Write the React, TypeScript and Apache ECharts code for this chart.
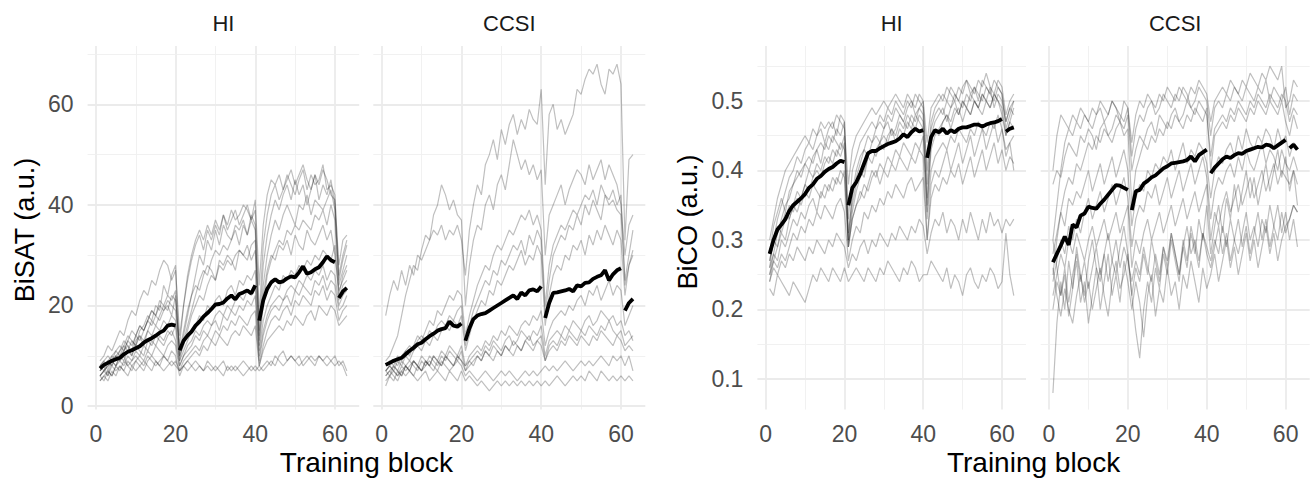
import React, { useEffect, useRef } from "react";
import * as echarts from "echarts";

// ---------- data ----------
const blocks = Array.from({ length: 63 }, (_, i) => i + 1);
const xTicks = [0, 20, 40, 60];
const satTicks = [0, 20, 40, 60];
const coTicks = [0.1, 0.2, 0.3, 0.4, 0.5];
const stripLabels = ["HI", "CCSI", "HI", "CCSI"];
const yTitles = ["BiSAT (a.u.)", "BiCO (a.u.)"];
const xTitle = "Training block";

const hiSatMean = [
  7.5, 8.2, 8.6, 9.0, 9.3, 9.6, 10.3, 10.8, 11.1, 11.5, 11.9, 12.6, 13.1, 13.5, 14.0, 14.6, 15.0, 16.0, 16.2, 16.0,
  11.1, 13.0, 14.0, 14.8, 16.0, 16.8, 17.8, 18.5, 19.3, 20.2, 20.3, 20.6, 21.4, 22.0, 21.2, 22.3, 22.6, 23.0, 22.4, 24.0,
  17.0, 21.0, 23.3, 24.6, 25.2, 24.6, 24.8, 25.4, 25.8, 25.6, 26.6, 27.8, 26.3, 26.6, 27.2, 27.6, 28.6, 29.8, 29.0, 28.6,
  21.5, 22.8, 23.5,
];
const ccsiSatMean = [
  8.2, 8.6, 9.0, 9.3, 9.6, 10.3, 11.0, 11.6, 12.3, 12.6, 13.3, 13.9, 14.4, 15.0, 15.3, 15.5, 16.8, 16.0, 15.8, 16.4,
  13.0, 15.5, 17.3, 18.0, 18.3, 18.5, 19.0, 19.5, 20.0, 20.5, 21.0, 21.5, 22.0, 21.3, 22.6, 22.0, 23.0, 23.2, 22.8, 23.8,
  17.5, 20.5, 22.5, 22.6, 22.8, 23.0, 23.3, 22.8, 24.0, 23.8, 24.5, 24.6, 25.3, 25.7, 26.0, 27.0, 25.0, 26.2, 27.0, 27.4,
  19.0, 20.5, 21.3,
];
const hiCoMean = [
  0.28, 0.3, 0.315, 0.322, 0.33, 0.342, 0.35, 0.355, 0.36, 0.366, 0.375, 0.38, 0.388, 0.392, 0.398, 0.402, 0.405, 0.41, 0.414, 0.412,
  0.35, 0.375, 0.383, 0.395, 0.41, 0.425, 0.428, 0.428, 0.432, 0.435, 0.438, 0.44, 0.442, 0.446, 0.452, 0.448, 0.455, 0.46, 0.456, 0.458,
  0.418, 0.448, 0.458, 0.455, 0.46, 0.453, 0.458, 0.455, 0.46, 0.462, 0.462, 0.464, 0.466, 0.466, 0.463, 0.466, 0.468, 0.469, 0.471, 0.474,
  0.456, 0.46, 0.462,
];
const ccsiCoMean = [
  0.268, 0.28, 0.292, 0.305, 0.293, 0.322, 0.318, 0.335, 0.338, 0.348, 0.346, 0.345, 0.352, 0.358, 0.365, 0.372, 0.379, 0.378, 0.375, 0.372,
  0.343, 0.37, 0.372, 0.381, 0.385, 0.39, 0.393, 0.398, 0.403, 0.406, 0.41, 0.411, 0.412, 0.413, 0.415, 0.42, 0.413, 0.422, 0.426, 0.43,
  0.396, 0.404, 0.41, 0.416, 0.42, 0.418, 0.422, 0.425, 0.424, 0.428, 0.43, 0.432, 0.434, 0.433, 0.437, 0.436, 0.432, 0.436, 0.44, 0.444,
  0.432, 0.437, 0.43,
];

const hiSatSubjects = [
  [6,7,8,9,8,10,11,12,10,13,14,12,15,17,16,18,20,19,22,21, 12,20,26,30,33,35,33,36,34,37,35,38,36,39,37,38,40,39,37,41, 24,36,42,45,44,46,43,45,47,44,46,48,45,43,46,44,47,45,42,41, 28,33,34],
  [8,9,7,10,11,10,12,14,13,12,15,16,18,17,20,19,24,22,26,28, 10,14,18,22,26,30,28,33,31,35,32,36,34,33,36,35,37,34,38,36, 15,28,34,38,41,39,42,44,41,45,42,44,40,43,46,41,44,42,45,40, 24,27,30],
  [7,8,9,8,10,11,13,12,11,14,16,15,17,19,18,21,20,22,21,23, 9,13,16,19,22,25,27,26,29,31,30,32,31,33,35,32,36,34,37,35, 14,24,30,34,37,35,38,40,38,36,40,39,42,38,41,40,39,41,43,39, 25,29,32],
  [6,7,8,9,10,9,11,13,12,14,13,15,17,16,18,17,19,20,18,22, 10,12,15,18,20,22,21,24,26,25,28,27,29,28,30,31,30,29,32,33, 12,20,26,29,31,33,32,35,34,36,35,37,36,35,38,37,39,36,40,37, 22,26,28],
  [8,7,9,10,9,11,12,11,13,12,14,13,15,14,16,15,17,16,18,17, 9,11,13,15,16,18,17,20,19,21,22,20,23,24,22,25,24,26,25,27, 11,17,20,22,24,23,26,25,27,26,28,27,29,28,30,29,31,30,29,32, 21,24,25],
  [5,6,7,6,8,9,8,10,9,11,10,12,11,13,12,14,13,15,14,16, 8,10,12,13,15,14,16,17,16,18,19,18,20,19,21,22,21,23,22,24, 10,15,18,20,21,22,21,23,24,23,25,24,26,25,27,26,28,25,27,26, 20,22,23],
  [7,8,6,9,8,10,9,11,10,12,11,10,13,12,14,13,12,14,15,13, 8,10,11,12,14,13,15,14,16,17,15,18,17,19,18,20,19,21,20,22, 9,14,17,19,20,19,21,22,20,23,22,24,23,22,25,24,26,23,25,24, 19,20,22],
  [6,5,7,6,8,7,9,8,7,9,10,9,11,10,12,11,10,12,13,12, 7,9,10,11,12,11,13,14,13,15,14,16,15,17,16,18,17,16,18,19, 8,12,15,17,18,17,19,20,18,21,20,22,21,20,23,22,24,21,23,22, 17,19,20],
  [9,10,12,11,13,15,14,17,19,18,21,23,22,25,24,27,29,28,25,27, 14,20,25,29,32,34,31,35,33,36,34,38,35,37,39,36,38,40,37,39, 18,32,38,42,44,41,43,46,44,42,45,47,43,46,44,45,48,43,44,42, 26,30,33],
  [5,6,5,7,6,8,7,6,8,9,8,7,9,10,9,8,10,9,11,10, 6,8,9,10,11,10,12,11,13,12,14,13,12,14,15,14,16,15,14,16, 8,11,13,14,15,16,15,17,16,18,17,16,18,19,17,20,19,18,20,19, 16,17,18],
  [6,7,6,8,7,8,7,9,8,7,8,9,8,7,9,8,7,8,9,8, 7,8,9,8,7,8,7,9,8,7,8,9,7,8,7,8,9,8,7,8, 7,8,9,8,10,9,8,9,10,9,8,9,10,9,8,10,9,10,9,8, 9,8,6],
  [7,8,9,8,10,9,10,8,9,10,9,8,10,9,8,9,10,9,8,9, 7,8,7,8,9,8,7,8,7,8,7,6,8,7,8,7,6,7,8,7, 8,7,8,9,8,10,11,9,10,9,10,8,9,10,9,10,9,8,9,10, 8,9,7],
  [8,9,10,9,11,12,11,13,15,14,16,15,17,19,18,20,19,21,20,19, 11,15,19,22,24,23,26,28,27,25,29,28,30,29,27,31,30,32,29,31, 13,22,27,30,29,32,31,33,30,34,32,31,35,33,32,34,36,33,35,30, 23,25,27],
];

const ccsiSatSubjects = [
  [18,22,25,23,27,24,28,26,30,29,31,33,35,34,36,33,35,34,36,33, 26,35,40,44,42,48,50,53,49,55,52,56,58,54,57,55,59,57,56,63, 44,58,60,55,57,54,56,58,63,62,65,67,66,68,64,62,67,66,68,64, 33,49,50],
  [9,10,12,14,18,22,25,28,27,31,34,33,38,40,44,42,39,41,38,37, 20,28,33,36,35,40,42,39,44,46,43,48,53,50,47,49,46,48,45,47, 30,38,40,42,44,40,43,45,47,46,44,48,45,47,49,45,48,46,44,40, 30,36,38],
  [7,8,9,8,10,11,10,12,14,13,15,17,16,19,18,20,22,21,23,22, 14,18,21,24,26,28,27,30,32,31,33,35,34,36,38,37,39,36,38,35, 20,28,32,34,36,35,37,39,38,40,42,41,43,40,44,42,41,43,40,42, 24,28,30],
  [8,9,8,10,9,11,12,11,13,14,13,15,14,16,17,16,18,17,19,20, 12,16,19,21,23,25,24,27,26,29,28,30,32,31,33,30,34,32,35,33, 18,25,30,32,34,33,36,35,38,36,40,38,41,39,37,42,40,41,39,38, 25,30,35],
  [7,8,7,9,8,10,9,11,12,11,13,12,14,13,15,16,15,17,16,18, 11,14,17,19,21,20,23,22,25,24,26,28,27,29,31,28,30,29,32,30, 16,22,26,28,27,30,29,32,31,33,30,34,32,35,33,36,34,32,35,33, 22,28,31],
  [6,7,8,7,9,8,7,9,8,10,9,8,10,9,11,10,12,11,10,12, 8,10,11,12,11,13,12,14,13,15,14,16,15,14,16,17,16,18,17,19, 12,15,17,18,19,18,20,19,21,22,20,23,22,24,21,23,25,22,24,23, 16,18,20],
  [7,6,8,7,6,8,9,8,7,9,8,10,9,8,10,9,11,10,9,11, 7,9,10,11,10,12,11,13,12,11,13,14,12,13,15,14,13,15,14,16, 10,13,14,15,14,16,15,17,16,15,17,18,16,17,19,18,17,18,16,17, 14,15,13],
  [5,6,7,6,7,8,7,6,8,7,9,8,7,9,8,10,9,8,10,9, 7,8,9,10,9,11,10,12,11,10,12,11,13,12,11,13,14,12,13,14, 9,12,13,12,14,13,15,14,13,15,14,16,15,14,16,15,17,15,14,15, 12,13,14],
  [4,6,5,7,6,8,7,9,8,7,9,8,10,9,8,10,9,8,10,9, 8,9,8,10,9,11,10,9,11,10,12,11,10,12,11,13,12,11,13,12, 9,11,12,11,13,12,14,13,12,14,13,12,14,13,15,14,13,12,14,13, 11,12,11],
  [6,7,6,5,7,6,7,6,5,6,7,5,6,7,6,5,7,6,5,7, 5,6,5,4,5,4,3,4,5,4,5,4,5,4,5,4,5,4,5,4, 5,4,5,6,5,4,5,6,5,6,5,7,6,5,7,6,5,6,5,6, 5,6,5],
  [7,8,7,6,8,7,8,9,8,7,8,9,8,7,9,8,7,8,9,8, 6,7,6,5,6,7,6,5,6,7,6,7,6,5,6,7,6,7,6,7, 8,7,8,7,8,9,8,7,8,9,8,9,8,9,10,9,8,10,9,10, 8,10,7],
];

const hiCoSubjects = [
  [.30,.33,.36,.38,.40,.41,.42,.43,.44,.45,.44,.46,.45,.47,.46,.47,.46,.48,.47,.46, .38,.43,.45,.46,.47,.48,.49,.48,.49,.50,.49,.50,.51,.50,.49,.51,.50,.49,.51,.50, .44,.49,.50,.51,.50,.52,.51,.50,.52,.51,.53,.52,.51,.53,.52,.54,.52,.51,.53,.52, .48,.50,.51],
  [.26,.30,.33,.35,.37,.39,.40,.42,.41,.43,.44,.43,.45,.46,.44,.46,.47,.45,.48,.47, .33,.40,.42,.44,.45,.46,.47,.46,.48,.47,.49,.48,.50,.49,.48,.50,.49,.51,.50,.49, .40,.47,.49,.50,.51,.50,.52,.51,.50,.52,.53,.51,.52,.50,.53,.52,.51,.53,.52,.51, .47,.49,.50],
  [.25,.28,.31,.33,.35,.36,.38,.39,.40,.41,.42,.41,.43,.44,.43,.45,.44,.46,.45,.47, .30,.37,.40,.42,.43,.45,.44,.46,.47,.46,.48,.47,.49,.48,.47,.49,.50,.48,.49,.50, .38,.46,.48,.49,.48,.50,.49,.51,.50,.49,.51,.50,.52,.51,.50,.52,.51,.50,.52,.51, .46,.48,.50],
  [.28,.32,.34,.36,.34,.37,.38,.40,.39,.41,.40,.42,.43,.41,.44,.43,.45,.44,.43,.45, .31,.36,.39,.41,.43,.42,.44,.45,.44,.46,.47,.45,.46,.48,.47,.46,.48,.47,.49,.48, .36,.45,.47,.48,.49,.47,.49,.50,.48,.50,.49,.51,.50,.49,.51,.50,.52,.49,.51,.50, .47,.49,.48],
  [.24,.27,.29,.31,.30,.33,.35,.34,.36,.38,.37,.39,.40,.39,.41,.42,.41,.43,.42,.44, .29,.34,.37,.39,.40,.42,.41,.43,.44,.45,.44,.46,.45,.47,.46,.48,.47,.46,.48,.47, .34,.43,.45,.46,.47,.48,.47,.49,.48,.50,.49,.48,.50,.49,.51,.50,.49,.51,.50,.49, .45,.47,.49],
  [.27,.30,.29,.32,.34,.33,.35,.37,.36,.38,.40,.39,.41,.40,.42,.41,.43,.42,.44,.43, .30,.35,.38,.40,.39,.42,.43,.42,.44,.43,.45,.46,.44,.46,.45,.47,.46,.48,.47,.46, .35,.44,.46,.45,.47,.48,.46,.48,.49,.47,.49,.48,.50,.49,.48,.50,.49,.51,.50,.48, .45,.47,.46],
  [.26,.28,.27,.30,.29,.31,.33,.32,.34,.33,.35,.36,.34,.37,.36,.38,.37,.39,.38,.40, .29,.33,.35,.37,.36,.38,.40,.39,.41,.40,.42,.41,.43,.42,.44,.43,.42,.44,.43,.45, .33,.40,.42,.43,.44,.43,.45,.44,.46,.45,.44,.46,.45,.47,.46,.45,.47,.46,.48,.46, .43,.44,.45],
  [.25,.27,.26,.28,.27,.29,.31,.30,.32,.31,.33,.32,.34,.33,.35,.34,.33,.35,.36,.34, .27,.30,.32,.31,.34,.33,.35,.34,.36,.35,.37,.36,.38,.37,.36,.38,.39,.37,.38,.39, .30,.36,.38,.37,.39,.38,.40,.39,.41,.38,.40,.42,.39,.41,.43,.40,.42,.44,.41,.43, .40,.42,.41],
  [.24,.26,.25,.27,.26,.28,.27,.29,.28,.27,.29,.28,.30,.29,.28,.30,.29,.31,.30,.29, .26,.28,.27,.29,.30,.28,.30,.29,.31,.30,.29,.31,.30,.32,.31,.30,.32,.31,.33,.32, .28,.31,.33,.32,.34,.31,.33,.32,.30,.33,.31,.34,.32,.30,.33,.31,.34,.32,.33,.31, .33,.32,.33],
  [.23,.22,.25,.24,.23,.22,.24,.23,.22,.21,.23,.25,.24,.26,.25,.24,.26,.25,.24,.26, .24,.25,.26,.25,.24,.26,.25,.24,.26,.25,.27,.26,.25,.24,.26,.25,.27,.26,.24,.25, .25,.27,.26,.25,.24,.26,.23,.25,.24,.22,.25,.26,.24,.23,.25,.24,.26,.25,.23,.24, .31,.25,.22],
  [.27,.30,.32,.31,.33,.35,.34,.36,.35,.37,.36,.38,.37,.36,.38,.37,.39,.38,.40,.39, .29,.33,.35,.36,.38,.37,.39,.40,.38,.40,.39,.41,.40,.42,.41,.40,.42,.41,.43,.42, .30,.38,.40,.39,.41,.43,.40,.42,.44,.41,.43,.45,.42,.44,.46,.43,.45,.47,.44,.46, .42,.44,.40],
];

const ccsiCoSubjects = [
  [.40,.45,.48,.47,.46,.48,.47,.49,.48,.47,.49,.48,.50,.49,.48,.50,.49,.47,.50,.49, .44,.48,.50,.49,.51,.50,.49,.51,.50,.52,.51,.50,.52,.51,.50,.52,.51,.53,.52,.51, .47,.50,.51,.52,.51,.53,.52,.51,.53,.52,.54,.53,.52,.54,.53,.55,.54,.53,.55,.49, .50,.53,.52],
  [.30,.35,.40,.44,.46,.45,.47,.46,.48,.47,.46,.48,.49,.47,.48,.50,.49,.48,.47,.49, .42,.46,.48,.47,.49,.50,.48,.49,.51,.50,.49,.51,.50,.52,.51,.49,.50,.52,.51,.50, .45,.49,.50,.49,.51,.50,.52,.51,.50,.52,.51,.50,.52,.51,.53,.50,.52,.51,.50,.52, .48,.51,.50],
  [.38,.40,.39,.42,.44,.43,.42,.45,.44,.46,.45,.43,.46,.47,.45,.46,.48,.47,.46,.48, .40,.43,.45,.44,.46,.47,.45,.48,.47,.46,.48,.49,.47,.48,.50,.49,.48,.50,.49,.48, .42,.46,.47,.48,.47,.49,.48,.50,.49,.48,.50,.49,.51,.50,.49,.51,.50,.49,.51,.50, .47,.49,.48],
  [.25,.30,.34,.37,.39,.38,.41,.40,.42,.44,.43,.45,.44,.46,.45,.44,.46,.47,.45,.46, .35,.40,.42,.44,.43,.45,.44,.46,.45,.47,.46,.48,.47,.46,.48,.47,.49,.48,.47,.49, .40,.45,.46,.47,.46,.48,.47,.49,.48,.47,.49,.48,.50,.49,.48,.50,.49,.48,.50,.47, .45,.48,.46],
  [.28,.31,.34,.32,.36,.35,.37,.36,.38,.40,.37,.39,.41,.38,.40,.42,.39,.41,.43,.40, .32,.36,.38,.37,.40,.39,.41,.40,.42,.41,.43,.40,.42,.44,.41,.43,.42,.44,.43,.41, .36,.40,.42,.41,.43,.44,.42,.45,.43,.46,.44,.43,.45,.44,.46,.45,.43,.46,.44,.45, .42,.44,.43],
  [.24,.27,.30,.28,.32,.30,.33,.31,.34,.36,.33,.35,.37,.34,.36,.38,.35,.37,.39,.36, .29,.33,.35,.34,.37,.36,.38,.35,.37,.39,.36,.38,.40,.37,.39,.41,.38,.40,.42,.39, .33,.37,.39,.38,.40,.41,.39,.42,.40,.43,.41,.40,.42,.44,.41,.43,.42,.40,.43,.41, .40,.42,.40],
  [.22,.25,.28,.26,.30,.28,.31,.29,.27,.30,.32,.29,.31,.33,.30,.32,.34,.31,.33,.35, .26,.30,.28,.31,.33,.30,.32,.34,.31,.33,.35,.32,.34,.36,.33,.35,.37,.34,.36,.38, .30,.34,.32,.35,.37,.34,.36,.38,.35,.37,.39,.36,.38,.40,.37,.39,.41,.38,.40,.39, .38,.40,.35],
  [.20,.24,.22,.26,.21,.25,.28,.24,.27,.23,.26,.29,.25,.28,.24,.27,.30,.26,.29,.27, .24,.27,.25,.29,.26,.24,.28,.25,.29,.27,.31,.28,.25,.29,.32,.28,.30,.27,.31,.29, .27,.30,.28,.32,.29,.33,.30,.28,.31,.34,.30,.32,.29,.33,.31,.35,.32,.30,.34,.31, .33,.35,.34],
  [.08,.18,.24,.20,.27,.23,.29,.25,.22,.27,.30,.26,.24,.28,.31,.27,.25,.29,.32,.28, .22,.26,.24,.28,.25,.30,.27,.24,.29,.26,.31,.28,.25,.30,.27,.32,.29,.26,.31,.28, .26,.29,.32,.28,.31,.27,.30,.33,.29,.32,.28,.31,.34,.30,.33,.29,.32,.35,.31,.34, .30,.33,.29],
  [.30,.26,.22,.25,.19,.23,.27,.21,.24,.18,.22,.26,.20,.24,.28,.22,.25,.21,.27,.24, .20,.24,.21,.16,.22,.25,.19,.23,.21,.26,.22,.24,.20,.25,.23,.27,.24,.21,.26,.23, .25,.28,.24,.27,.30,.26,.29,.25,.28,.31,.27,.30,.26,.29,.32,.28,.31,.27,.30,.32, .33,.35,.34],
  [.26,.22,.19,.23,.20,.18,.22,.25,.21,.24,.20,.23,.26,.22,.19,.24,.27,.23,.25,.28, .22,.17,.13,.20,.24,.21,.26,.23,.28,.25,.30,.27,.24,.29,.26,.31,.28,.33,.30,.35, .28,.32,.35,.31,.36,.33,.38,.34,.37,.40,.36,.39,.35,.38,.41,.37,.40,.43,.39,.42, .37,.40,.38],
];

// ---------- layout / style ----------
const FONT = "'Liberation Sans', Arial, Helvetica, sans-serif";
const GRID_TOP = 46;
const GRID_H = 363.6;
const panels = [
  { left: 87.6, width: 271.6, mean: hiSatMean, subjects: hiSatSubjects, kind: "sat", yLabels: true },
  { left: 373.3, width: 272, mean: ccsiSatMean, subjects: ccsiSatSubjects, kind: "sat", yLabels: false },
  { left: 757.4, width: 268.6, mean: hiCoMean, subjects: hiCoSubjects, kind: "co", yLabels: true },
  { left: 1040.7, width: 269, mean: ccsiCoMean, subjects: ccsiCoSubjects, kind: "co", yLabels: false },
];
const yRange = { sat: [-0.7, 71.6], co: [0.056, 0.579] };
const yMajor = { sat: satTicks, co: coTicks };
const yMinor = { sat: [10, 30, 50, 70], co: [0.15, 0.25, 0.35, 0.45, 0.55] };
const xMinor = [10, 30, 50];
const segments = [[0, 20], [20, 40], [40, 60], [60, 63]];

function buildOption() {
  const grid: any[] = [];
  const xAxis: any[] = [];
  const yAxis: any[] = [];
  const series: any[] = [];
  panels.forEach((p, i) => {
    grid.push({ left: p.left, top: GRID_TOP, width: p.width, height: GRID_H, containLabel: false });
    xAxis.push({
      gridIndex: i, type: "value", min: -2.1, max: 66.1,
      axisLine: { show: false }, axisTick: { show: false }, splitLine: { show: false },
      axisLabel: { customValues: xTicks, fontSize: 23, color: "#4d4d4d", margin: 13, fontFamily: FONT },
    });
    const [ymin, ymax] = yRange[p.kind];
    yAxis.push({
      gridIndex: i, type: "value", min: ymin, max: ymax,
      axisLine: { show: false }, axisTick: { show: false }, splitLine: { show: false },
      axisLabel: {
        show: p.yLabels, customValues: yMajor[p.kind], fontSize: 23, color: "#4d4d4d", margin: 14, fontFamily: FONT,
        formatter: (v: number) => (p.kind === "co" ? v.toFixed(1) : String(Math.round(v))),
      },
    });
    const major = { color: "#ebebeb", width: 1.8, type: "solid" };
    const minor = { color: "#efefef", width: 0.9, type: "solid" };
    const ml: any[] = [];
    xTicks.forEach((v) => ml.push({ xAxis: v, lineStyle: major }));
    xMinor.forEach((v) => ml.push({ xAxis: v, lineStyle: minor }));
    yMajor[p.kind].forEach((v) => ml.push({ yAxis: v, lineStyle: major }));
    yMinor[p.kind].forEach((v) => ml.push({ yAxis: v, lineStyle: minor }));
    series.push({
      type: "line", xAxisIndex: i, yAxisIndex: i, data: [], silent: true, z: 1,
      markLine: { silent: true, z: 1, symbol: ["none", "none"], label: { show: false }, lineStyle: { type: "solid" }, data: ml },
    });
    p.subjects.forEach((s) => {
      series.push({
        type: "line", xAxisIndex: i, yAxisIndex: i, silent: true, z: 10,
        showSymbol: false, symbol: "none",
        lineStyle: { color: "rgba(0,0,0,0.25)", width: 1.2 },
        data: blocks.map((b, j) => [b, s[j]]),
      });
    });
    segments.forEach(([a, b]) => {
      series.push({
        type: "line", xAxisIndex: i, yAxisIndex: i, silent: true, z: 12,
        showSymbol: false, symbol: "none",
        lineStyle: { color: "#000", width: 3.8 },
        data: blocks.slice(a, b).map((t, j) => [t, p.mean[a + j]]),
      });
    });
  });

  const txt = (text: string, x: number, y: number, size: number, color: string, rot = 0) => ({
    type: "text", x, y, rotation: rot, silent: true,
    style: { text, fontSize: size, fontFamily: FONT, fill: color, align: "center", verticalAlign: "middle", textAlign: "center", textVerticalAlign: "middle" },
  });
  const graphic: any[] = [];
  panels.forEach((p, i) => graphic.push(txt(stripLabels[i], p.left + p.width / 2, 23, 22, "#1a1a1a")));
  graphic.push(txt(yTitles[0], 25, 230, 27, "#000", Math.PI / 2));
  graphic.push(txt(yTitles[1], 688, 222, 27, "#000", Math.PI / 2));
  graphic.push(txt(xTitle, (panels[0].left + panels[1].left + panels[1].width) / 2, 462, 28, "#000"));
  graphic.push(txt(xTitle, (panels[2].left + panels[3].left + panels[3].width) / 2, 462, 28, "#000"));

  return { animation: false, backgroundColor: "#fff", grid, xAxis, yAxis, series, graphic };
}

export default function App() {
  const ref = useRef<HTMLDivElement>(null);
  useEffect(() => {
    if (!ref.current) return;
    const chart = echarts.init(ref.current, null, { renderer: "svg" });
    chart.setOption(buildOption() as any);
    return () => chart.dispose();
  }, []);
  return <div ref={ref} style={{ position: "fixed", left: 0, top: 0, width: 1312, height: 482, background: "#fff" }} />;
}
